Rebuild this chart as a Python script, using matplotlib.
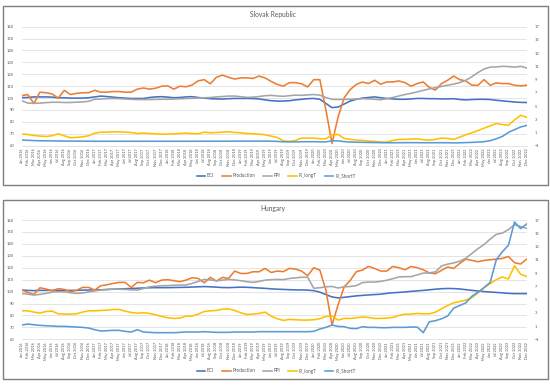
import matplotlib.pyplot as plt
from matplotlib.lines import Line2D
from matplotlib.patches import Rectangle

plt.rcParams['font.family'] = ['Lato', 'DejaVu Sans']

MONTHS = ["Jan", "Feb", "Mar", "Apr", "May", "Jun",
          "Jul", "Aug", "Sep", "Oct", "Nov", "Dec"]
YEARS = [2016, 2017, 2018, 2019, 2020, 2021, 2022]
LABELS = [f"{m} {y}" for y in YEARS for m in MONTHS]

SERIES = ["BCI", "Production", "PPI", "IR_longT", "IR_ShortT"]
COLORS = ["#4472C4", "#ED7D31", "#A5A5A5", "#FFC000", "#5B9BD5"]

# Slovak Republic -- index series on the left axis, rates (%) on the right
SK_BCI = [100.3, 100.5, 101, 101, 101, 100.8, 100.3, 100.3, 100, 100, 100, 100.3,
          101, 101.7, 101.3, 100.8, 100.3, 100, 99.7, 99.7, 99.7, 100.5, 101, 101.2,
          100.8, 100.3, 100.5, 101, 101.2, 100.5, 100, 99.5, 99.3, 99.2, 99.5, 99.7,
          99.7, 99.7, 99.6, 99.3, 98.5, 97.8, 97.5, 97.5, 97.8, 98.5, 99, 99.5,
          99.7, 99, 95.5, 92, 92.5, 95, 97.5, 99, 100, 100.5, 101, 100.3,
          99.7, 99.3, 99, 99, 99.3, 99.7, 99.7, 99.5, 99.5, 99.3, 99.3, 99.5,
          98.8, 98.5, 98.8, 99, 99, 98.8, 98.2, 97.7, 97.2, 96.7, 96.4, 96.3]
SK_PROD = [102, 103, 95.5, 105, 104.5, 103.5, 100, 106.5, 103, 104, 104.5, 104.5,
           106.5, 105, 105, 105.5, 105.5, 105, 105, 107.5, 108.5, 107.5, 108.3, 110,
           110.3, 107.5, 110, 109.5, 111, 114.5, 115.5, 112, 117.5, 119.3, 117.5, 116,
           117, 117, 116.5, 118.5, 117, 114, 111.5, 110, 113, 113, 112, 109.4,
           115.5, 115.5, 90, 62, 84, 100.3, 107.2, 111.5, 113.5, 112.2, 115, 111.7,
           113.6, 113.6, 114.4, 113, 110, 112.2, 113.6, 108.9, 106.7, 112.2, 115, 118.5,
           115.5, 114.4, 110.8, 110.8, 115.5, 110.8, 112.8, 112.2, 112.2, 110.8, 110.3, 110.8]
SK_PPI = [97.8, 95.8, 95.6, 95.8, 96.2, 96.5, 96.5, 96.3, 96.3, 96.6, 96.8, 97.3,
          99, 99.2, 99.5, 99.7, 99.5, 99.2, 99, 98.8, 98.8, 98.8, 98.9, 99,
          99, 99.2, 99.4, 99.6, 99.8, 100, 100.3, 100.5, 101, 101.3, 101.7, 101.7,
          101.2, 100.6, 100.8, 101.3, 102, 102.3, 101.8, 101.5, 102, 102.5, 102.3, 102.7,
          103, 102.5, 100.5, 99, 98.8, 98.9, 99, 99.2, 99.5, 99.3, 99, 98.6,
          99.5, 100.5, 101.8, 103, 104, 105.2, 106.5, 107.7, 108.8, 109.8, 110.8, 111.8,
          113, 115, 118, 121.5, 124.5, 126, 126.2, 126.7, 126.5, 126, 126.7, 125.3]
SK_IRL = [0.75, 0.7, 0.55, 0.45, 0.4, 0.5, 0.8, 0.5, 0.2, 0.25, 0.35, 0.5,
          0.9, 1.05, 1.05, 1.1, 1.1, 1.05, 1.0, 0.85, 0.9, 0.85, 0.8, 0.75,
          0.75, 0.8, 0.85, 0.9, 0.85, 0.8, 1.05, 0.95, 1.0, 1.05, 1.1, 1.0,
          0.95, 0.85, 0.8, 0.75, 0.65, 0.45, 0.25, -0.25, -0.35, -0.2, 0.15, 0.15,
          0.15, 0.05, 0.05, 0.65, 0.7, 0.1, -0.05, -0.15, -0.2, -0.3, -0.35, -0.45,
          -0.45, -0.2, -0.05, -0.05, 0.0, 0.05, -0.1, -0.15, -0.05, 0.15, 0.1, -0.05,
          0.3, 0.65, 0.95, 1.3, 1.65, 2.0, 2.35, 2.2, 2.1, 2.9, 3.6, 3.3]
SK_IRS = [-0.15, -0.18, -0.23, -0.25, -0.26, -0.27, -0.29, -0.3, -0.3, -0.31, -0.31, -0.32,
          -0.33, -0.33, -0.33, -0.33, -0.33, -0.33, -0.33, -0.33, -0.33, -0.33, -0.33, -0.33,
          -0.33, -0.33, -0.33, -0.33, -0.33, -0.32, -0.32, -0.32, -0.32, -0.32, -0.32, -0.31,
          -0.31, -0.31, -0.31, -0.31, -0.31, -0.32, -0.35, -0.41, -0.42, -0.42, -0.4, -0.39,
          -0.39, -0.41, -0.42, -0.25, -0.27, -0.38, -0.44, -0.48, -0.49, -0.51, -0.52, -0.54,
          -0.55, -0.55, -0.55, -0.54, -0.54, -0.54, -0.55, -0.55, -0.55, -0.55, -0.55, -0.57,
          -0.56, -0.53, -0.5, -0.45, -0.39, -0.24, 0.04, 0.4, 1.01, 1.43, 1.83, 2.07]

# Hungary
HU_BCI = [101.3, 101, 100.8, 101, 101, 101, 101, 101, 101, 101, 101.2, 101.3,
          101.5, 101.5, 101.7, 102, 102.2, 102.4, 102.6, 102.8, 103, 103.2, 103.3, 103.3,
          103.3, 103.4, 103.5, 103.6, 103.8, 104, 104.2, 104, 103.7, 103.4, 103.3, 103.5,
          103.7, 103.6, 103.3, 103, 102.7, 102.3, 102, 101.8, 101.6, 101.4, 101.4, 101.2,
          100.8, 99.5, 97.5, 95.5, 94.7, 95.2, 95.8, 96.4, 96.8, 97.2, 97.5, 97.8,
          98.5, 99, 99.3, 99.7, 100.2, 100.6, 101, 101.5, 102, 102.4, 102.6, 102.5,
          102.2, 101.6, 101, 100.5, 100, 99.6, 99.3, 98.9, 98.5, 98.3, 98.3, 98.3]
HU_PROD = [101.3, 99.3, 97.6, 103.2, 102.1, 100.7, 102.4, 101.8, 99.9, 101, 103.5, 103.5,
           101.3, 104.9, 105.7, 106.8, 107.7, 107.7, 103.5, 107.7, 107.4, 109.6, 107.4, 109.6,
           110, 109.1, 108.3, 109.6, 111.6, 111, 107.4, 111.9, 108.8, 111.9, 111, 117.2,
           115.2, 115.2, 116.6, 116.6, 119.4, 116, 117.2, 116.7, 119.4, 118.9, 117.2, 113.3,
           120, 118, 101.1, 71.9, 88.9, 103.9, 109.4, 116.7, 118, 121.1, 119.4, 117.2,
           117.2, 121.1, 120, 118.3, 121.1, 120, 118.3, 115.6, 115, 117.8, 120.6, 119.4,
           123.6, 127.2, 126.1, 125, 126.1, 126.7, 127.2, 127.8, 129.4, 124.2, 123.1, 127.2]
HU_PPI = [98.5, 97.8, 97.1, 97.6, 98.5, 99.5, 99.9, 99.8, 99, 98.5, 98.8, 99.7,
          100.5, 101.3, 101.8, 102.1, 102, 101.8, 101.5, 101.3, 102.5, 104, 104.5, 104.9,
          105, 105.3, 105.5, 105.5, 106.8, 108.5, 110.2, 109.8, 109.1, 109.6, 110.2, 109.8,
          109.1, 108.3, 107.7, 108.5, 109.6, 110, 110.2, 110, 111, 111.5, 112, 112,
          102.8, 103.2, 104, 104.3, 103, 104, 104.3, 105, 107.5, 108, 108, 108.5,
          109.5, 110.8, 112.3, 112.5, 112.5, 114, 115.5, 115.7, 116.5, 121.5, 123, 124,
          125.5, 128, 132, 136, 139.5, 144, 148, 149, 152, 156, 154.5, 153]
HU_IRL = [3.3, 3.3, 3.1, 2.95, 3.2, 3.25, 2.85, 2.8, 2.8, 2.85, 3.1, 3.3,
          3.3, 3.35, 3.4, 3.5, 3.5, 3.25, 3.05, 2.95, 3.0, 2.9, 2.7, 2.45,
          2.25, 2.15, 2.2, 2.5, 2.5, 2.8, 3.2, 3.3, 3.35, 3.55, 3.6, 3.35,
          3.0, 2.75, 2.8, 2.9, 3.1, 2.5, 2.1, 1.85, 2.0, 1.95, 1.9, 1.9,
          1.95, 2.1, 2.45, 2.5, 1.9, 2.15, 2.15, 2.25, 2.35, 2.3, 2.15, 2.15,
          2.2, 2.3, 2.6, 2.8, 2.8, 2.9, 2.85, 2.85, 3.1, 3.6, 4.1, 4.5,
          4.7, 4.9, 5.3, 6.0, 6.8, 7.4, 8.0, 8.4, 8.1, 10.1, 8.8, 8.5]
HU_IRS = [1.15, 1.3, 1.2, 1.1, 1.05, 1.0, 0.95, 0.95, 0.9, 0.85, 0.8, 0.7,
          0.45, 0.25, 0.3, 0.35, 0.35, 0.2, 0.1, 0.45, 0.1, 0.05, 0.0, 0.0,
          0.0, 0.0, 0.05, 0.1, 0.1, 0.1, 0.15, 0.1, 0.05, 0.05, 0.05, 0.1,
          0.1, 0.1, 0.1, 0.15, 0.15, 0.15, 0.15, 0.15, 0.15, 0.15, 0.15, 0.15,
          0.2, 0.55, 0.8, 1.15, 0.95, 0.9, 0.65, 0.6, 0.9, 0.8, 0.8, 0.75,
          0.75, 0.8, 0.8, 0.8, 0.85, 0.85, 0.0, 1.65, 1.8, 2.1, 2.5, 3.7,
          4.1, 4.5, 5.5, 6.1, 6.8, 7.6, 11.0, 12.2, 13.2, 16.7, 15.7, 16.4]

TEXT = "#595959"
GRID = "#D9D9D9"
W, H = 550, 385


def fx(px):
    return px / W


def fy(py):
    return 1 - py / H


def panel(fig, top, bottom, box, title, title_y, legend_y, left, right):
    ax = fig.add_axes([fx(21.7), fy(bottom), fx(526.7) - fx(21.7), fy(top) - fy(bottom)])
    x = list(range(len(LABELS)))
    for vals, col in zip(left, COLORS[:3]):
        ax.plot(x, vals, color=col, lw=1.15, solid_joinstyle="round")
    ax.set_xlim(0, len(LABELS) - 1)
    ax.set_ylim(60, 160)
    ax.set_yticks(range(60, 161, 10))
    ax.grid(axis="y", color=GRID, lw=0.5)
    ax.set_axisbelow(True)
    for s in ["top", "left", "right"]:
        ax.spines[s].set_visible(False)
    ax.spines["bottom"].set_color(GRID)
    ax.spines["bottom"].set_linewidth(0.5)
    ax.set_xticks(x)
    ax.set_xticklabels(LABELS, rotation=90, fontsize=2.75, color=TEXT)
    ax.tick_params(axis="x", length=0, pad=2)
    ax.tick_params(axis="y", length=0, pad=5.5, labelsize=3.0, labelcolor=TEXT)

    ax2 = ax.twinx()
    for vals, col in zip(right, COLORS[3:]):
        ax2.plot(x, vals, color=col, lw=1.15, solid_joinstyle="round")
    ax2.set_ylim(-1, 17)
    ax2.set_yticks(range(-1, 18, 2))
    for s in ax2.spines.values():
        s.set_visible(False)
    ax2.tick_params(axis="y", length=0, pad=5.5, labelsize=3.0, labelcolor=TEXT)

    fig.add_artist(Rectangle((fx(box[0]), fy(box[3])), fx(box[2]) - fx(box[0]),
                             fy(box[1]) - fy(box[3]), transform=fig.transFigure,
                             fill=False, ec="#7F7F7F", lw=1.0))
    fig.text(fx(273), fy(title_y), title, ha="center", va="center",
             fontsize=4.8, color=TEXT)
    handles = [Line2D([], [], color=c, lw=1.15) for c in COLORS]
    fig.legend(handles, SERIES, loc="center", bbox_to_anchor=(fx(276), fy(legend_y)),
               ncol=5, frameon=False, fontsize=3.3, handlelength=1.9,
               handletextpad=0.4, columnspacing=1.7, labelcolor=TEXT)


fig = plt.figure(figsize=(5.5, 3.85), dpi=100)
panel(fig, 26.7, 145.7, (3.3, 5.7, 547.7, 185), "Slovak Republic", 15, 176,
      [SK_BCI, SK_PROD, SK_PPI], [SK_IRL, SK_IRS])
panel(fig, 220, 339.3, (3.3, 200, 547.7, 379.3), "Hungary", 209, 371,
      [HU_BCI, HU_PROD, HU_PPI], [HU_IRL, HU_IRS])
fig.savefig("out.png", dpi=100)
